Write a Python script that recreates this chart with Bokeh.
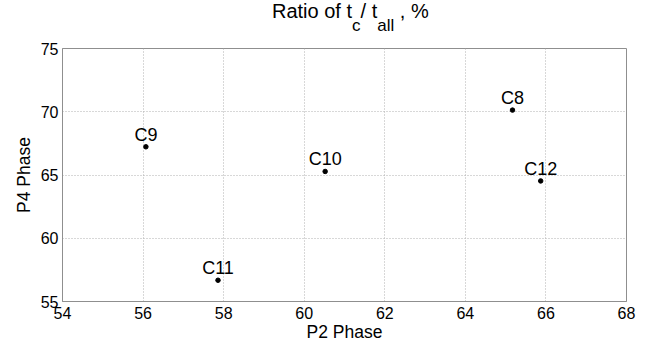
from bokeh.plotting import figure
from bokeh.models import Range1d, FixedTicker, ColumnDataSource, Div
from bokeh.layouts import column
from bokeh.core.properties import value
from bokeh.embed import file_html
from bokeh.resources import INLINE

# data
names = ["C8", "C9", "C10", "C11", "C12"]
p2_phase = [65.17, 56.07, 60.52, 57.86, 65.87]
p4_phase = [70.13, 67.23, 65.28, 56.68, 64.53]
x_ticks = [54, 56, 58, 60, 62, 64, 66, 68]
y_ticks = [55, 60, 65, 70, 75]

FONT = "Liberation Sans"
AXC = "#8f8f8f"
GRIDC = "#b0b0b0"

# title with subscripts (HTML)
sub = "position:relative; top:13px; font-size:17px;"
title_html = (
    'Ratio of t<span style="%s">c</span>/ t<span style="%s">all</span> , %%' % (sub, sub)
)
title = Div(text=title_html, width=648, height=34,
            styles={"font-family": FONT, "font-size": "20px", "color": "black",
                    "line-height": "20px", "padding-left": "272px", "padding-top": "1px",
                    "white-space": "nowrap", "margin": "0"})

p = figure(width=648, height=310, output_backend="svg", toolbar_location=None,
           x_range=Range1d(x_ticks[0], x_ticks[-1]), y_range=Range1d(y_ticks[0], y_ticks[-1]),
           min_border_left=62, min_border_right=22, min_border_top=14, min_border_bottom=40,
           background_fill_color="white", border_fill_color="white")

p.outline_line_color = AXC
p.outline_line_width = 1

for ax in (p.xaxis[0], p.yaxis[0]):
    ax.axis_line_color = AXC
    ax.major_tick_in = 0
    ax.major_tick_out = 0
    ax.minor_tick_in = 0
    ax.minor_tick_out = 0
    ax.major_label_text_font = FONT
    ax.major_label_text_font_size = "16px"
    ax.major_label_text_color = "black"
    ax.axis_label_text_font = FONT
    ax.axis_label_text_font_size = "17.5px"
    ax.axis_label_text_font_style = "normal"
    ax.axis_label_text_color = "black"

p.xaxis.ticker = FixedTicker(ticks=x_ticks)
p.yaxis.ticker = FixedTicker(ticks=y_ticks)
p.xaxis.axis_label = "P2 Phase"
p.yaxis.axis_label = "P4 Phase"
p.xaxis.major_label_standoff = 5
p.yaxis.major_label_standoff = 4
p.xaxis.axis_label_standoff = 0
p.yaxis.axis_label_standoff = 4

for g in (p.xgrid[0], p.ygrid[0]):
    g.grid_line_color = GRIDC
    g.grid_line_dash = "1 2"
    g.grid_line_width = 1
p.xgrid.ticker = FixedTicker(ticks=x_ticks)
p.ygrid.ticker = FixedTicker(ticks=y_ticks)

src = ColumnDataSource(dict(x=p2_phase, y=p4_phase, name=names))
p.scatter("x", "y", source=src, size=4.5, color="black")
p.text("x", "y", text="name", source=src, text_align="center", text_baseline="alphabetic",
       y_offset=-12, text_font=value(FONT), text_font_size="18px", text_color="black")

layout = column(title, p, spacing=0)
open("out.html", "w").write(file_html(layout, INLINE))
